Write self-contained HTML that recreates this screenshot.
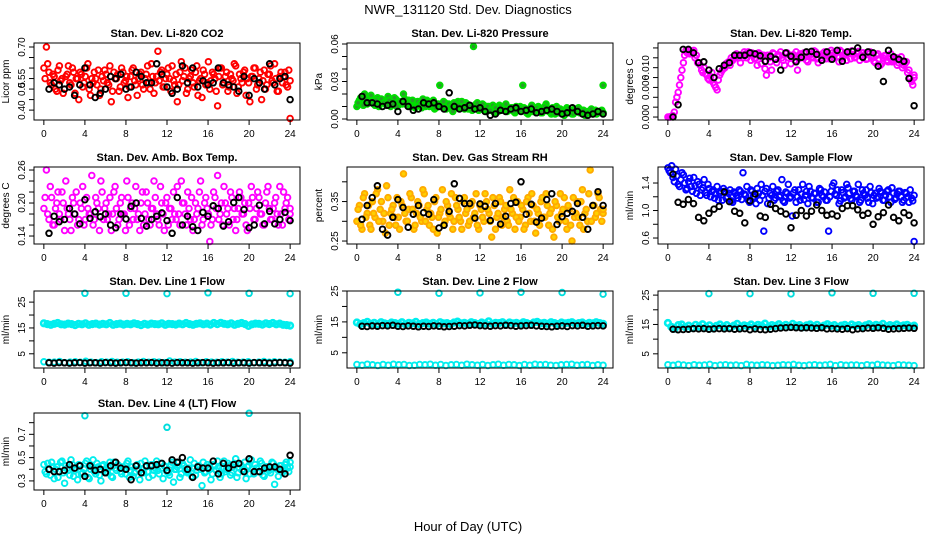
<!DOCTYPE html>
<html><head><meta charset="utf-8"><style>
body{margin:0;background:#fff;}
svg{display:block;font-family:"Liberation Sans",sans-serif;}
</style></head><body>
<svg id="c" width="936" height="540" viewBox="0 0 936 540">
<text x="468" y="14" text-anchor="middle" font-size="13">NWR_131120  Std. Dev. Diagnostics</text>
<text x="468" y="531" text-anchor="middle" font-size="13">Hour of Day (UTC)</text>
</svg>
<script>
// ---- data ----
const co2C=[0.60,0.70,0.58,0.52,0.56,0.49,0.61,0.55,0.50,0.57,0.53,0.60,0.48,0.55,0.58,0.51,0.56,0.62,0.47,0.53,0.55,0.59,0.50,0.54,0.57,0.52,0.44,0.58,0.55,0.49,0.60,0.53,0.56,0.51,0.59,0.54,0.47,0.57,0.52,0.55,0.61,0.50,0.56,0.53,0.68,0.58,0.51,0.55,0.60,0.49,0.54,0.57,0.52,0.63,0.56,0.48,0.55,0.59,0.51,0.61,0.54,0.46,0.57,0.53,0.50,0.58,0.55,0.42,0.60,0.52,0.56,0.49,0.57,0.54,0.61,0.51,0.55,0.58,0.47,0.53,0.56,0.60,0.50,0.55,0.45,0.59,0.52,0.57,0.54,0.62,0.49,0.56,0.53,0.58,0.51,0.36];
const co2C2=[0.55,0.62,0.53,0.57,0.50,0.59,0.54,0.48,0.56,0.61,0.52,0.58,0.55,0.45,0.57,0.53,0.60,0.50,0.55,0.58,0.52,0.47,0.56,0.59,0.53,0.61,0.49,0.55,0.57,0.51,0.58,0.54,0.46,0.56,0.60,0.52,0.55,0.58,0.50,0.57,0.53,0.62,0.48,0.56,0.54,0.59,0.51,0.57,0.55,0.61,0.52,0.44,0.58,0.54,0.60,0.50,0.56,0.53,0.58,0.47,0.55,0.59,0.52,0.63,0.54,0.57,0.49,0.56,0.60,0.53,0.58,0.51,0.55,0.62,0.48,0.57,0.53,0.59,0.55,0.44,0.56,0.60,0.52,0.58,0.54,0.50,0.57,0.61,0.53,0.55,0.49,0.58,0.56,0.52,0.59,0.54];
const co2K=[0.50,0.53,0.52,0.50,0.51,0.47,0.52,0.60,0.52,0.46,0.48,0.50,0.56,0.55,0.57,0.50,0.51,0.58,0.56,0.53,0.53,0.62,0.57,0.51,0.48,0.50,0.61,0.53,0.60,0.51,0.54,0.52,0.53,0.60,0.53,0.52,0.51,0.49,0.56,0.47,0.55,0.53,0.50,0.62,0.52,0.55,0.56,0.45];
const presC=[0.010,0.015,0.018,0.020,0.012,0.016,0.014,0.011,0.017,0.013,0.015,0.012,0.018,0.010,0.014,0.016,0.011,0.013,0.020,0.012,0.015,0.010,0.014,0.011,0.013,0.009,0.012,0.015,0.010,0.013,0.008,0.012,0.027,0.010,0.013,0.009,0.011,0.006,0.012,0.014,0.009,0.011,0.013,0.008,0.010,0.058,0.012,0.007,0.009,0.011,0.006,0.010,0.008,0.005,0.009,0.011,0.007,0.010,0.006,0.008,0.009,0.005,0.008,0.010,0.027,0.007,0.004,0.009,0.006,0.008,0.010,0.005,0.007,0.012,0.006,0.004,0.008,0.010,0.005,0.007,0.003,0.009,0.006,0.004,0.008,0.006,0.005,0.007,0.003,0.006,0.005,0.004,0.007,0.005,0.006,0.027];
const presC2=[0.013,0.017,0.011,0.016,0.014,0.019,0.012,0.015,0.010,0.016,0.013,0.011,0.015,0.012,0.017,0.010,0.014,0.012,0.016,0.011,0.013,0.015,0.009,0.014,0.012,0.016,0.010,0.013,0.011,0.015,0.009,0.012,0.010,0.014,0.008,0.012,0.010,0.013,0.009,0.011,0.014,0.008,0.012,0.010,0.007,0.011,0.013,0.009,0.012,0.008,0.010,0.007,0.011,0.009,0.006,0.010,0.008,0.012,0.007,0.009,0.006,0.010,0.008,0.007,0.009,0.005,0.008,0.011,0.006,0.009,0.007,0.005,0.010,0.008,0.006,0.009,0.004,0.007,0.008,0.006,0.005,0.008,0.007,0.004,0.006,0.009,0.005,0.007,0.004,0.006,0.008,0.005,0.004,0.006,0.007,0.005];
const presK=[0.018,0.013,0.013,0.012,0.010,0.011,0.012,0.006,0.014,0.010,0.007,0.008,0.013,0.012,0.013,0.010,0.008,0.021,0.010,0.008,0.009,0.011,0.008,0.009,0.006,0.003,0.004,0.007,0.006,0.008,0.009,0.006,0.007,0.008,0.005,0.006,0.007,0.008,0.006,0.004,0.005,0.009,0.006,0.004,0.003,0.004,0.006,0.004];
const tempC=[0,0,0.0003,0.003,0.005,0.008,0.011,0.0135,0.0135,0.013,0.0135,0.0125,0.011,0.0095,0.010,0.0085,0.0075,0.009,0.0065,0.0055,0.0085,0.0095,0.010,0.011,0.0105,0.0115,0.012,0.0125,0.011,0.012,0.0128,0.0132,0.0115,0.0125,0.012,0.013,0.0108,0.0125,0.0085,0.012,0.0095,0.0128,0.011,0.0125,0.012,0.0105,0.013,0.0125,0.012,0.0115,0.0095,0.0128,0.012,0.013,0.0112,0.0126,0.012,0.0132,0.011,0.0125,0.013,0.0118,0.0128,0.0135,0.012,0.013,0.0112,0.0132,0.0125,0.0115,0.013,0.0134,0.012,0.0128,0.0115,0.013,0.0126,0.0118,0.0132,0.0125,0.011,0.0128,0.0105,0.012,0.0125,0.0112,0.0128,0.0115,0.012,0.011,0.0122,0.0105,0.0112,0.0095,0.0072,0.0085];
const tempC2=[0,0.0002,0.001,0.004,0.0065,0.0095,0.0125,0.013,0.0128,0.0132,0.012,0.011,0.0105,0.009,0.0088,0.0078,0.0082,0.007,0.006,0.0075,0.009,0.0098,0.0108,0.0112,0.012,0.0118,0.0128,0.012,0.0125,0.0132,0.012,0.0126,0.013,0.0118,0.0105,0.0128,0.0122,0.0098,0.0125,0.0112,0.013,0.0118,0.0126,0.0132,0.0115,0.0128,0.012,0.0108,0.0126,0.0132,0.0118,0.0125,0.013,0.0115,0.0128,0.0122,0.0134,0.0118,0.0126,0.012,0.0132,0.0125,0.0118,0.013,0.0128,0.0122,0.0135,0.012,0.0127,0.0132,0.0118,0.0126,0.0122,0.0133,0.0124,0.013,0.0117,0.0128,0.0122,0.0113,0.0125,0.0118,0.0108,0.0124,0.0115,0.012,0.0112,0.0118,0.0105,0.0115,0.01,0.0108,0.009,0.0078,0.0065,0.008];
const tempK=[0,0.0025,0.0137,0.0137,0.013,0.011,0.0112,0.0095,0.008,0.0098,0.0105,0.011,0.0125,0.0125,0.0125,0.013,0.0128,0.0124,0.0113,0.0123,0.0117,0.0095,0.013,0.0123,0.0112,0.0121,0.0132,0.0133,0.0127,0.0115,0.0132,0.0117,0.0135,0.0113,0.0132,0.0133,0.014,0.0121,0.0132,0.013,0.0103,0.0072,0.0135,0.0122,0.0117,0.0113,0.0078,0.0023];
const ambC=[0.19,0.26,0.17,0.21,0.16,0.20,0.18,0.22,0.15,0.19,0.17,0.21,0.18,0.16,0.20,0.23,0.17,0.19,0.18,0.16,0.21,0.19,0.24,0.17,0.20,0.18,0.15,0.22,0.19,0.17,0.21,0.18,0.24,0.16,0.20,0.19,0.17,0.15,0.22,0.18,0.20,0.16,0.19,0.21,0.17,0.23,0.18,0.20,0.16,0.19,0.22,0.17,0.18,0.24,0.20,0.16,0.19,0.21,0.17,0.18,0.22,0.16,0.20,0.19,0.13,0.17,0.21,0.25,0.18,0.16,0.20,0.19,0.22,0.17,0.15,0.19,0.21,0.18,0.16,0.20,0.23,0.17,0.19,0.21,0.18,0.16,0.22,0.19,0.17,0.20,0.18,0.23,0.16,0.19,0.21,0.18];
const ambC2=[0.21,0.18,0.23,0.16,0.19,0.22,0.17,0.20,0.24,0.18,0.15,0.20,0.22,0.17,0.19,0.16,0.21,0.18,0.25,0.17,0.20,0.15,0.22,0.19,0.17,0.21,0.18,0.23,0.16,0.20,0.18,0.15,0.21,0.19,0.17,0.23,0.18,0.20,0.16,0.22,0.17,0.19,0.24,0.18,0.16,0.20,0.15,0.21,0.19,0.17,0.18,0.23,0.16,0.20,0.18,0.22,0.17,0.15,0.20,0.19,0.24,0.17,0.21,0.18,0.16,0.22,0.19,0.17,0.20,0.23,0.18,0.16,0.21,0.19,0.17,0.22,0.18,0.20,0.15,0.19,0.21,0.17,0.22,0.18,0.16,0.20,0.23,0.17,0.19,0.21,0.16,0.18,0.22,0.20,0.17,0.19];
const ambK=[0.145,0.176,0.166,0.170,0.190,0.180,0.162,0.206,0.172,0.184,0.175,0.180,0.160,0.155,0.180,0.171,0.194,0.200,0.172,0.158,0.170,0.176,0.182,0.168,0.145,0.210,0.160,0.176,0.157,0.150,0.183,0.176,0.195,0.190,0.158,0.166,0.201,0.210,0.188,0.155,0.160,0.196,0.162,0.185,0.162,0.170,0.183,0.168];
const rhC=[0.30,0.34,0.28,0.37,0.32,0.29,0.35,0.31,0.38,0.33,0.30,0.27,0.36,0.32,0.34,0.29,0.31,0.35,0.42,0.30,0.33,0.36,0.28,0.32,0.34,0.30,0.37,0.33,0.29,0.31,0.35,0.27,0.32,0.38,0.30,0.34,0.31,0.28,0.36,0.33,0.30,0.35,0.32,0.29,0.34,0.31,0.37,0.28,0.33,0.30,0.35,0.32,0.26,0.34,0.31,0.36,0.29,0.33,0.30,0.38,0.32,0.28,0.35,0.31,0.33,0.29,0.36,0.30,0.34,0.27,0.32,0.35,0.31,0.37,0.29,0.33,0.26,0.34,0.30,0.32,0.36,0.28,0.33,0.25,0.31,0.35,0.29,0.38,0.32,0.30,0.43,0.34,0.31,0.37,0.33,0.32];
const rhC2=[0.33,0.29,0.36,0.31,0.34,0.28,0.32,0.37,0.30,0.35,0.32,0.39,0.29,0.33,0.31,0.36,0.28,0.34,0.32,0.30,0.37,0.33,0.29,0.35,0.31,0.38,0.30,0.34,0.32,0.28,0.36,0.31,0.33,0.29,0.35,0.32,0.37,0.30,0.34,0.31,0.28,0.36,0.33,0.30,0.35,0.32,0.29,0.34,0.31,0.37,0.33,0.30,0.36,0.28,0.32,0.35,0.31,0.34,0.29,0.33,0.36,0.31,0.30,0.34,0.28,0.35,0.32,0.37,0.30,0.33,0.29,0.36,0.31,0.34,0.32,0.28,0.35,0.31,0.37,0.33,0.30,0.34,0.29,0.36,0.32,0.31,0.35,0.28,0.33,0.37,0.30,0.34,0.32,0.36,0.30,0.33];
const rhK=[0.305,0.340,0.360,0.390,0.280,0.265,0.310,0.355,0.335,0.285,0.318,0.340,0.322,0.318,0.355,0.283,0.290,0.325,0.395,0.358,0.345,0.345,0.308,0.344,0.338,0.302,0.345,0.293,0.313,0.345,0.348,0.400,0.318,0.343,0.298,0.308,0.355,0.370,0.292,0.312,0.320,0.325,0.345,0.310,0.280,0.340,0.375,0.340];
const flowC=[1.62,1.55,1.48,1.60,1.38,1.45,1.52,1.30,1.42,1.35,1.48,1.25,1.38,1.30,1.45,1.22,1.32,1.28,1.18,1.35,1.25,1.15,1.28,1.20,1.30,1.12,1.25,1.18,1.28,1.55,1.22,1.15,1.30,1.20,1.10,1.25,1.38,0.70,1.32,1.18,1.22,1.15,1.28,1.20,1.45,1.12,1.25,1.18,0.92,1.30,1.20,1.15,1.38,1.22,1.10,1.28,1.18,1.25,1.12,1.30,1.20,1.15,0.70,1.28,1.40,1.22,1.10,1.30,1.18,1.38,1.25,1.15,1.28,1.20,1.12,1.30,1.22,1.18,1.35,1.10,1.25,1.20,1.28,1.15,1.22,1.30,1.12,1.25,1.18,1.28,1.20,1.15,1.25,1.12,1.18,0.55];
const flowC2=[1.58,1.65,1.42,1.50,1.35,1.55,1.40,1.32,1.47,1.28,1.36,1.42,1.22,1.33,1.26,1.38,1.20,1.30,1.24,1.15,1.28,1.32,1.18,1.25,1.14,1.27,1.22,1.30,1.16,1.24,1.35,1.12,1.28,1.20,1.32,1.15,1.22,1.28,1.10,1.25,1.35,1.18,1.30,1.22,1.14,1.27,1.38,1.20,1.26,1.12,1.30,1.24,1.16,1.28,1.35,1.19,1.25,1.12,1.32,1.22,1.27,1.15,1.20,1.36,1.24,1.30,1.14,1.26,1.20,1.33,1.17,1.28,1.22,1.38,1.15,1.25,1.30,1.12,1.26,1.22,1.18,1.32,1.26,1.15,1.28,1.20,1.33,1.16,1.24,1.28,1.12,1.26,1.20,1.30,1.14,1.22];
const flowK=[1.53,1.12,1.09,1.16,1.10,0.90,0.85,0.96,1.02,1.06,1.27,1.13,0.99,0.96,0.82,1.14,1.24,0.92,0.90,1.09,1.03,0.99,0.95,0.75,0.93,1.00,0.92,0.99,1.08,1.00,0.93,0.95,0.92,1.03,1.07,1.07,1.01,0.93,0.96,0.80,0.91,0.97,1.08,0.90,0.85,0.97,0.93,0.82];
const l1Hi=[16.8,16.5,16.2,16.6,16.9,16.4,16.3,16.7,16.5,16.1,16.6,16.4,16.8,16.2,16.5,16.7,16.3,16.6,16.4,16.9,16.2,16.5,16.7,16.3,16.6,16.4,16.8,16.5,16.1,16.6,16.3,16.7,16.5,16.4,16.8,16.2,16.6,16.5,16.3,16.7,16.4,16.9,16.5,16.2,16.6,16.8,16.4,16.7,16.3,16.9,16.5,17.0,16.6,16.4,16.8,16.2,16.6,16.9,16.5,15.8,16.4,16.7,16.6,16.3,16.8,16.5,16.9,16.4,16.7,16.2,16.1,15.9];
const l1Lo=[1.9,1.7,1.8,2.0,1.6,1.8,1.9,1.7,2.1,1.8,1.6,1.9,1.8,2.0,1.7,1.8,1.9,1.6,1.8,2.0,1.7,1.9,1.8,1.6,2.2,1.8,1.9,1.7,1.8,2.0,1.6,1.9,1.8,1.7,1.9,1.8,2.0,1.7,1.8,1.9,1.6,1.8,2.0,1.7,1.9,1.8,1.7,1.9];
const l1K=[1.5,1.4,1.6,1.5,1.4,1.5,1.6,1.4,1.5,1.5,1.4,1.6,1.5,1.4,1.5,1.6,1.5,1.4,1.5,1.5,1.6,1.4,1.5,1.5,1.4,1.6,1.5,1.5,1.4,1.5,1.6,1.5,1.4,1.5,1.5,1.6,1.4,1.5,1.5,1.4,1.6,1.5,1.5,1.4,1.5,1.6,1.5,1.4];
const l1Out=[28.4,28.4,28.3,28.6,28.4,28.3];
const l2Hi=[14.8,14.3,14.6,15.0,14.4,14.7,14.2,14.9,14.5,14.3,14.8,14.6,14.4,14.9,14.2,14.7,14.5,15.0,14.3,14.6,14.8,14.4,14.7,14.2,14.9,14.5,14.6,14.3,14.8,15.1,14.5,14.7,14.4,14.9,14.6,14.3,14.8,14.5,15.2,14.4,14.7,14.6,14.9,14.3,14.8,14.5,14.7,14.4,14.9,14.6,14.3,14.8,15.0,14.5,14.7,14.4,14.9,14.6,14.3,14.8,14.5,14.7,14.9,14.4,14.6,14.8,14.3,14.7,14.5,14.9,14.6,14.4];
const l2Lo=[1.2,1.0,1.3,1.1,0.9,1.2,1.0,1.3,1.1,1.2,0.9,1.0,1.2,1.1,1.3,1.0,1.2,0.9,1.1,1.2,1.0,1.3,1.1,1.0,1.2,0.9,1.1,1.3,1.0,1.2,1.1,0.9,1.2,1.0,1.3,1.1,1.2,1.0,0.9,1.1,1.2,1.3,1.0,1.1,1.2,0.9,1.1,1.0];
const l2K=[13.6,13.5,13.7,13.6,13.8,13.7,13.9,13.6,13.5,13.7,13.6,13.4,13.6,13.5,13.7,13.6,13.4,13.5,13.6,13.8,13.7,13.9,14.0,13.8,13.7,13.6,13.8,13.7,13.9,13.8,13.6,13.7,13.8,13.9,13.7,13.6,13.5,13.4,13.6,13.7,13.5,13.8,13.7,13.9,13.6,13.7,13.8,13.7];
const l2Out=[24.6,24.3,24.4,24.6,24.5,24.0];
const l3Hi=[15.5,14.2,13.6,14.8,15.0,14.1,14.6,13.8,14.9,14.3,15.1,14.0,14.7,13.7,14.5,15.0,14.2,14.8,13.9,14.6,15.2,14.1,14.7,14.4,15.0,14.3,14.9,14.6,15.3,14.2,14.8,14.5,15.1,14.4,14.9,14.3,15.2,14.6,14.8,14.1,14.7,15.0,14.4,14.9,14.2,14.6,15.1,14.5,14.8,14.0,14.6,14.9,14.3,15.0,14.5,14.8,14.2,14.7,15.1,14.4,14.9,14.6,15.2,14.3,14.8,14.5,15.0,14.4,14.7,14.9,14.3,14.6];
const l3Lo=[1.3,1.1,1.4,1.2,1.0,1.3,1.1,1.2,1.4,1.0,1.2,1.3,1.1,1.2,1.0,1.4,1.2,1.1,1.3,1.2,1.0,1.1,1.3,1.2,1.4,1.1,1.0,1.2,1.3,1.1,1.2,1.4,1.0,1.3,1.1,1.2,1.2,1.0,1.3,1.1,1.4,1.2,1.1,1.0,1.3,1.2,1.1,1.0];
const l3K=[13.4,13.2,13.3,13.4,13.6,13.5,13.6,13.4,13.5,13.6,13.5,13.6,13.4,13.5,13.6,13.2,13.5,13.3,13.2,13.4,13.6,13.8,13.9,14.0,13.9,13.8,13.9,13.8,13.7,13.9,13.5,13.6,13.5,13.4,13.6,13.2,13.5,13.6,13.8,13.7,13.9,13.7,13.4,13.5,13.6,13.7,13.8,13.7];
const l3Out=[25.5,25.5,25.4,25.8,25.6,25.6];
const l4C=[0.44,0.36,0.40,0.46,0.32,0.42,0.38,0.47,0.28,0.41,0.35,0.44,0.39,0.31,0.43,0.37,0.45,0.33,0.40,0.48,0.36,0.42,0.30,0.44,0.38,0.41,0.34,0.46,0.39,0.43,0.36,0.40,0.45,0.33,0.42,0.37,0.44,0.31,0.40,0.47,0.38,0.43,0.35,0.41,0.39,0.45,0.32,0.42,0.37,0.44,0.29,0.40,0.46,0.36,0.43,0.38,0.41,0.34,0.45,0.39,0.42,0.26,0.37,0.44,0.40,0.36,0.43,0.47,0.33,0.41,0.38,0.45,0.35,0.42,0.49,0.37,0.44,0.40,0.32,0.43,0.48,0.36,0.41,0.38,0.45,0.34,0.42,0.39,0.46,0.27,0.40,0.43,0.37,0.44,0.41,0.46];
const l4C2=[0.38,0.45,0.35,0.42,0.40,0.33,0.46,0.37,0.43,0.39,0.48,0.34,0.41,0.44,0.36,0.40,0.47,0.32,0.42,0.38,0.45,0.35,0.43,0.40,0.37,0.46,0.33,0.41,0.44,0.38,0.42,0.36,0.47,0.39,0.34,0.43,0.40,0.45,0.37,0.42,0.33,0.44,0.39,0.47,0.36,0.41,0.43,0.38,0.35,0.46,0.40,0.42,0.33,0.45,0.39,0.37,0.48,0.41,0.35,0.43,0.40,0.46,0.38,0.42,0.31,0.44,0.39,0.41,0.36,0.47,0.40,0.43,0.37,0.45,0.33,0.41,0.39,0.46,0.42,0.36,0.40,0.44,0.38,0.47,0.35,0.42,0.40,0.37,0.45,0.41,0.34,0.43,0.39,0.46,0.38,0.42];
const l4K=[0.40,0.38,0.38,0.39,0.44,0.41,0.43,0.34,0.43,0.39,0.40,0.37,0.43,0.46,0.41,0.40,0.31,0.43,0.37,0.43,0.43,0.44,0.45,0.39,0.48,0.46,0.50,0.40,0.33,0.42,0.41,0.41,0.47,0.36,0.45,0.41,0.44,0.45,0.38,0.49,0.38,0.38,0.41,0.42,0.42,0.40,0.36,0.52];
const l4Out=[0.86,0.76,0.88];
const outHours=[4,8,12,16,20,24];
const l4OutHours=[4,12,20];
const xTicks=[0,4,8,12,16,20,24];

// ---- panels ----
const W=266,H=77;
const panels=[
 {name:'co2',title:'Stan. Dev. Li-820 CO2',yl:'Licor ppm',L:34,T:43,y0:0.353,y1:0.719,ticks:[0.40,0.45,0.50,0.55,0.60,0.65,0.70],labs:['0.40','','0.5','0.55','','','0.70'],
  s:[{d:co2C,col:'#ff0000'},{d:co2C2,col:'#ff0000',off:1},{d:co2K,col:'#000',k:1}]},
 {name:'pressure',title:'Stan. Dev. Li-820 Pressure',yl:'kPa',L:347,T:43,y0:-0.0008,y1:0.0608,ticks:[0,0.01,0.02,0.03,0.04,0.05,0.06],labs:['0.00','','','0.03','','','0.06'],
  s:[{d:presC,col:'#00dd00',fill:'#2a9a2a'},{d:presC2,col:'#00dd00',fill:'#2a9a2a',off:1},{d:presK,col:'#000',k:1}]},
 {name:'li-temp',title:'Stan. Dev. Li-820 Temp.',yl:'degrees C',L:658,T:43,y0:-0.0006,y1:0.015,ticks:[0,0.002,0.004,0.006,0.008,0.010,0.012,0.014],labs:['0.000','','','0.006','','0.010','',''],
  s:[{d:tempC,col:'#ff00ff'},{d:tempC2,col:'#ff00ff',off:1},{d:tempK,col:'#000',k:1}]},
 {name:'amb-box',title:'Stan. Dev. Amb. Box Temp.',yl:'degrees C',L:34,T:167,y0:0.1255,y1:0.2655,ticks:[0.14,0.16,0.18,0.20,0.22,0.24,0.26],labs:['0.14','','','0.20','','','0.26'],
  s:[{d:ambC,col:'#ff00ff'},{d:ambC2,col:'#ff00ff',off:1},{d:ambK,col:'#000',k:1}]},
 {name:'gas-rh',title:'Stan. Dev. Gas Stream RH',yl:'percent',L:347,T:167,y0:0.2425,y1:0.4375,ticks:[0.25,0.30,0.35,0.40],labs:['0.25','','0.35',''],
  s:[{d:rhC,col:'#ffaa00',fill:'#ffd000'},{d:rhC2,col:'#ffaa00',fill:'#ffd000',off:1},{d:rhK,col:'#000',k:1}]},
 {name:'sample-flow',title:'Stan. Dev. Sample Flow',yl:'ml/min',L:658,T:167,y0:0.513,y1:1.633,ticks:[0.6,0.8,1.0,1.2,1.4],labs:['0.6','','1.0','','1.4'],
  s:[{d:flowC,col:'#0000ff'},{d:flowC2,col:'#0000ff',off:1},{d:flowK,col:'#000',k:1}]},
 {name:'line1',title:'Stan. Dev. Line 1 Flow',yl:'ml/min',L:34,T:291,y0:-0.5,y1:29.3,ticks:[5,10,15,20,25],labs:['5','','15','','25'],
  s:[{d:l1Hi,col:'#00eeee',w:2.6},{d:l1Lo,col:'#00eeee'},{d:l1K,col:'#000',k:1},{d:l1Out,h:outHours,col:'#00dddd'}]},
 {name:'line2',title:'Stan. Dev. Line 2 Flow',yl:'ml/min',L:347,T:291,y0:0.08,y1:25.0,ticks:[5,10,15,20,25],labs:['5','','15','','25'],
  s:[{d:l2Hi,col:'#00eeee',w:2.6},{d:l2Lo,col:'#00eeee'},{d:l2K,col:'#000',k:1},{d:l2Out,h:outHours,col:'#00dddd'}]},
 {name:'line3',title:'Stan. Dev. Line 3 Flow',yl:'ml/min',L:658,T:291,y0:0.17,y1:26.4,ticks:[5,10,15,20,25],labs:['5','','15','','25'],
  s:[{d:l3Hi,col:'#00eeee',w:2.6},{d:l3Lo,col:'#00eeee'},{d:l3K,col:'#000',k:1},{d:l3Out,h:outHours,col:'#00dddd'}]},
 {name:'line4',title:'Stan. Dev. Line 4 (LT) Flow',yl:'ml/min',L:34,T:413,y0:0.222,y1:0.883,ticks:[0.3,0.4,0.5,0.6,0.7,0.8],labs:['0.3','','0.5','','0.7',''],
  s:[{d:l4C,col:'#00eeee'},{d:l4C2,col:'#00eeee',off:1},{d:l4K,col:'#000',k:1},{d:l4Out,h:l4OutHours,col:'#00dddd'}]}
];
const NS='http://www.w3.org/2000/svg';
const svg=document.getElementById('c');
function mk(tag,attrs,parent){const e=document.createElementNS(NS,tag);for(const k in attrs)e.setAttribute(k,attrs[k]);(parent||svg).appendChild(e);return e;}
panels.forEach(p=>{
  const g=mk('g',{});
  
  
  const xs=h=>p.L+(h+0.96)/25.92*W;
  const ys=v=>p.T+H-(v-p.y0)/(p.y1-p.y0)*H;
  const t=mk('text',{x:p.L+W/2,y:p.T-6,'text-anchor':'middle','font-size':11,'font-weight':'bold'},g);
  t.textContent=p.title;
  
  
  const yt=mk('text',{transform:`translate(${p.L-25},${p.T+H/2}) rotate(-90)`,'text-anchor':'middle','font-size':10},g);
  yt.textContent=p.yl;
  
  
  p.s.forEach(s=>{
    const n=s.d.length;
    s.d.forEach((v,i)=>{
      let h=s.h?s.h[i]:(s.k?0.5+i*23.5/(n-1):i*24/(n-1));
      if(s.off)h=Math.min(24,h+0.12);
      const c=mk('circle',{cx:xs(h).toFixed(1),cy:ys(v).toFixed(1),r:2.8,fill:s.fill||'none',stroke:s.col,'stroke-width':s.w||1.9},g);
      
      
    });
  });
  const b=mk('rect',{x:p.L,y:p.T,width:W,height:H,fill:'none',stroke:'#000','stroke-width':1},g);
  
  
  p.ticks.forEach((v,i)=>{
    const y=ys(v);
    mk('line',{x1:p.L-5,x2:p.L,y1:y,y2:y,stroke:'#000'},g);
    if(p.labs[i]){const l=mk('text',{transform:`translate(${p.L-9},${y}) rotate(-90)`,'text-anchor':'middle','font-size':10},g);
      l.textContent=p.labs[i];
      
      }
  });
  xTicks.forEach(h=>{
    const x=xs(h);
    mk('line',{x1:x,x2:x,y1:p.T+H,y2:p.T+H+5,stroke:'#000'},g);
    const l=mk('text',{x:x,y:p.T+H+17,'text-anchor':'middle','font-size':10},g);
    l.textContent=h;
    
    
  });
});
</script>
</body></html>
